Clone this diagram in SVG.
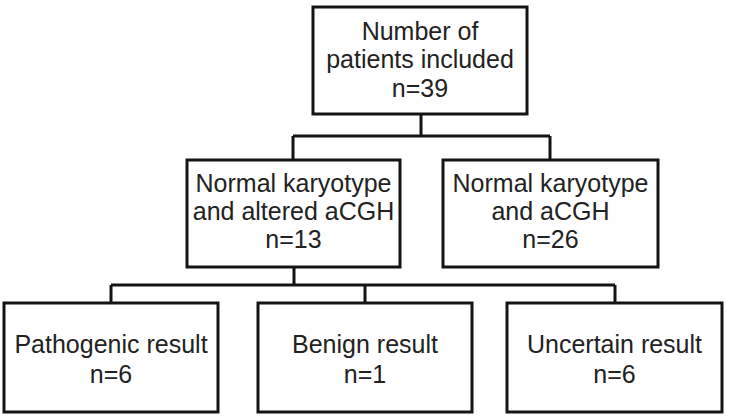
<svg xmlns="http://www.w3.org/2000/svg" width="731" height="417" viewBox="0 0 731 417">
<style>
.box{fill:#fff;stroke:#141414;stroke-width:3}
.t{font-family:"Liberation Sans",Arial,sans-serif;font-size:25px;fill:#222;text-anchor:middle}
.c{fill:none;stroke:#141414;stroke-width:3;stroke-linejoin:miter}
</style>
<rect width="731" height="417" fill="#fff"/>
<g id="connectors">
<path class="c" d="M421 114V136M293 136H550M293 136V160M550 136V160"/>
<path class="c" d="M294 267V285M111 285H615M111 285V303M365 285V303M615 285V303"/>
</g>
<g id="n-total">
<rect class="box" x="313" y="7" width="214" height="107"/>
<text class="t" x="420" y="40">Number of</text>
<text class="t" x="420" y="68">patients included</text>
<text class="t" x="420" y="97">n=39</text>
</g>
<g id="n-altered">
<rect class="box" x="187" y="160" width="213" height="107"/>
<text class="t" x="293.5" y="192">Normal karyotype</text>
<text class="t" x="293.5" y="220">and altered aCGH</text>
<text class="t" x="293.5" y="248">n=13</text>
</g>
<g id="n-normal">
<rect class="box" x="443" y="160" width="215" height="107"/>
<text class="t" x="550.5" y="192">Normal karyotype</text>
<text class="t" x="550.5" y="220">and aCGH</text>
<text class="t" x="550.5" y="248">n=26</text>
</g>
<g id="n-pathogenic">
<rect class="box" x="4" y="303" width="214" height="109"/>
<text class="t" x="111" y="353">Pathogenic result</text>
<text class="t" x="111" y="383">n=6</text>
</g>
<g id="n-benign">
<rect class="box" x="258" y="303" width="214" height="109"/>
<text class="t" x="365" y="353">Benign result</text>
<text class="t" x="365" y="383">n=1</text>
</g>
<g id="n-uncertain">
<rect class="box" x="507" y="303" width="215" height="109"/>
<text class="t" x="614.5" y="353">Uncertain result</text>
<text class="t" x="614.5" y="383">n=6</text>
</g>
</svg>
